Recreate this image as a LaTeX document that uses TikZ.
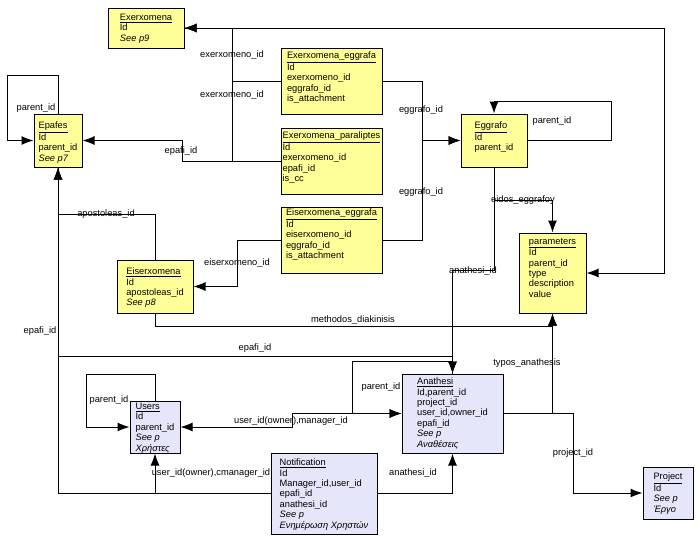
\documentclass[tikz,border=0pt]{standalone}
\usepackage{fontspec}
\setmainfont{Liberation Sans}
\usetikzlibrary{arrows.meta,positioning,calc}
\definecolor{entyellow}{RGB}{255,255,153}
\definecolor{entblue}{RGB}{230,230,250}

\begin{document}
\begin{tikzpicture}[x=1pt,y=-1pt,line width=1pt,
  ybox/.style={draw,fill=entyellow,inner sep=0pt},
  bbox/.style={draw,fill=entblue,inner sep=0pt},
  etxt/.style={anchor=north,inner sep=0pt,align=left,font=\fontsize{9.3}{10.4}\selectfont},
  lbl/.style={inner sep=0pt,font=\fontsize{9.3}{10.4}\selectfont},
  arr/.style={-{Latex[length=12pt,width=9pt]}},
  arrs/.style={{Latex[length=12pt,width=9pt]}-{Latex[length=12pt,width=9pt]}}]
\useasboundingbox (0,0) rectangle (700,539);

% tables
\node[ybox,minimum width=76pt,minimum height=40pt] (exerx) at (146,28) {};
\node[ybox,minimum width=48pt,minimum height=53pt] (epafes) at (58,140.5) {};
\node[ybox,minimum width=101pt,minimum height=66pt] (exeggr) at (331.5,81) {};
\node[ybox,minimum width=101pt,minimum height=66pt] (exparal) at (331.5,161) {};
\node[ybox,minimum width=101pt,minimum height=66pt] (eiseggr) at (331.5,240) {};
\node[ybox,minimum width=66pt,minimum height=53pt] (eggrafo) at (494,140.5) {};
\node[ybox,minimum width=67pt,minimum height=80pt] (params) at (552.5,273) {};
\node[ybox,minimum width=76pt,minimum height=53pt] (eiserx) at (155,286.5) {};
\node[bbox,minimum width=50pt,minimum height=52pt] (users) at (155,427) {};
\node[bbox,minimum width=101pt,minimum height=79pt] (anathesi) at (452.5,413.5) {};
\node[bbox,minimum width=106pt,minimum height=81pt] (notif) at (324,493.5) {};
\node[bbox,minimum width=50pt,minimum height=52pt] (project) at (668,493) {};

% exerxomeno_id
\draw[arr] (exeggr.west) -- (232,81) |- (exerx.east);
\draw[arr] (exparal.west) -- (232,161) |- (exerx.east);
% epafi_id
\draw[arr] (exparal.west) -- (182,161) |- (epafes.east);
\draw[arr] (epafes.north) |- (7,75) |- (epafes.west);
% eggrafo_id
\draw[arr] (exeggr.east) -- (422,81) |- (eggrafo.west);
\draw[arr] (eiseggr.east) -- (422,240) |- (eggrafo.west);
\draw[arr] (eggrafo.east) -- (611,140.5) |- (494,101) -- (eggrafo.north);
\draw[arr] (eggrafo.south) |- (552.5,200) -- (params.north);
\draw[arr] (eggrafo.south) -- (494,270) -| (anathesi.north);
\draw[arr] (exerx.east) -- (664,28) |- (params.east);
% eiserxomena
\draw[arr] (eiseggr.west) -- (237,240) |- (eiserx.east);
\draw[arr] (eiserx.north) |- (58,214) -- (epafes.south);
\draw[arr] (eiserx.south) |- (552.5,326) -- (params.south);
% anathesi
\draw[arr] (anathesi.east) -| (params.south);
\draw[arr] (anathesi.east) -- (573,413.5) |- (project.west);
\draw[arr] (epafes.south) |- (452.5,356) -- (anathesi.north);
\draw[arr] (anathesi.north) -- (452.5,361) -| (352,413.5) -- (anathesi.west);
\draw[arrs] (users.east) -- (292,427) |- (anathesi.west);
\draw[arr] (users.north) |- (86,374) |- (users.west);
% notification
\draw[arr] (notif.west) -| (users.south);
\draw[arr] (notif.west) -| (epafes.south);
\draw[arr] (notif.east) -| (anathesi.south);

% table texts
\node[etxt,yshift=-6pt] (exerx-t) at (exerx.north) {\underline{Exerxomena}\\Id\\\textit{See p9}};
\node[etxt,yshift=-8pt] (epafes-t) at (epafes.north) {\underline{Epafes}\\Id\\parent\_id\\\textit{See p7}};
\node[etxt,yshift=-4pt] (exeggr-t) at (exeggr.north) {\underline{Exerxomena\_eggrafa}\\Id\\exerxomeno\_id\\eggrafo\_id\\is\_attachment};
\node[etxt,yshift=-4pt] (exparal-t) at (exparal.north) {\underline{Exerxomena\_paraliptes}\\Id\\exerxomeno\_id\\epafi\_id\\is\_cc};
\node[etxt,yshift=-2pt] (eiseggr-t) at (eiseggr.north) {\underline{Eiserxomena\_eggrafa}\\Id\\eiserxomeno\_id\\eggrafo\_id\\is\_attachment};
\node[etxt,yshift=-8pt] (eggrafo-t) at (eggrafo.north) {\underline{Eggrafo}\\Id\\parent\_id};
\node[etxt,yshift=-5pt] (params-t) at (params.north) {\underline{parameters}\\Id\\parent\_id\\type\\description\\value};
\node[etxt,yshift=-8pt] (eiserx-t) at (eiserx.north) {\underline{Eiserxomena}\\Id\\apostoleas\_id\\\textit{See p8}};
\node[etxt,yshift=-2pt] (users-t) at (users.north) {\underline{Users}\\Id\\parent\_id\\\textit{See p}\\\textit{Χρήστες}};
\node[etxt,yshift=-4pt] (anathesi-t) at (anathesi.north) {\underline{Anathesi}\\Id,parent\_id\\project\_id\\user\_id,owner\_id\\epafi\_id\\\textit{See p}\\\textit{Αναθέσεις}};
\node[etxt,yshift=-6pt] (notif-t) at (notif.north) {\underline{Notification}\\Id\\Manager\_id,user\_id\\epafi\_id\\anathesi\_id\\\textit{See p}\\\textit{Ενημέρωση Χρηστών}};
\node[etxt,yshift=-6pt] (project-t) at (project.north) {\underline{Project}\\Id\\\textit{See p}\\\textit{Έργο}};

% labels
\node[lbl] (l-exerxomeno-a) at (232,55) {exerxomeno\_id};
\node[lbl] (l-exerxomeno-b) at (232,95) {exerxomeno\_id};
\node[lbl] (l-epafi-a) at (181,151) {epafi\_id};
\node[lbl] (l-parent-epafes) at (36,108) {parent\_id};
\node[lbl] (l-eggrafo-a) at (421,110) {eggrafo\_id};
\node[lbl] (l-eggrafo-b) at (421,192) {eggrafo\_id};
\node[lbl] (l-parent-eggrafo) at (552,121) {parent\_id};
\node[lbl] (l-eidos) at (523,200) {eidos\_eggrafoy};
\node[lbl] (l-anathesi-a) at (473,271) {anathesi\_id};
\node[lbl] (l-apostoleas) at (106,214) {apostoleas\_id};
\node[lbl] (l-eiserxomeno) at (237,263) {eiserxomeno\_id};
\node[lbl] (l-methodos) at (353,320) {methodos\_diakinisis};
\node[lbl] (l-epafi-b) at (40,331) {epafi\_id};
\node[lbl] (l-epafi-c) at (255,348) {epafi\_id};
\node[lbl] (l-parent-anathesi) at (381,387) {parent\_id};
\node[lbl] (l-typos) at (527,363) {typos\_anathesis};
\node[lbl] (l-project) at (573,453) {project\_id};
\node[lbl] (l-anathesi-b) at (413,473) {anathesi\_id};
\node[lbl] (l-parent-users) at (109,400) {parent\_id};
\node[lbl] (l-user-a) at (291,421) {user\_id(owner),manager\_id};
\node[lbl] (l-user-b) at (211,473) {user\_id(owner),cmanager\_id};
\end{tikzpicture}
\end{document}
